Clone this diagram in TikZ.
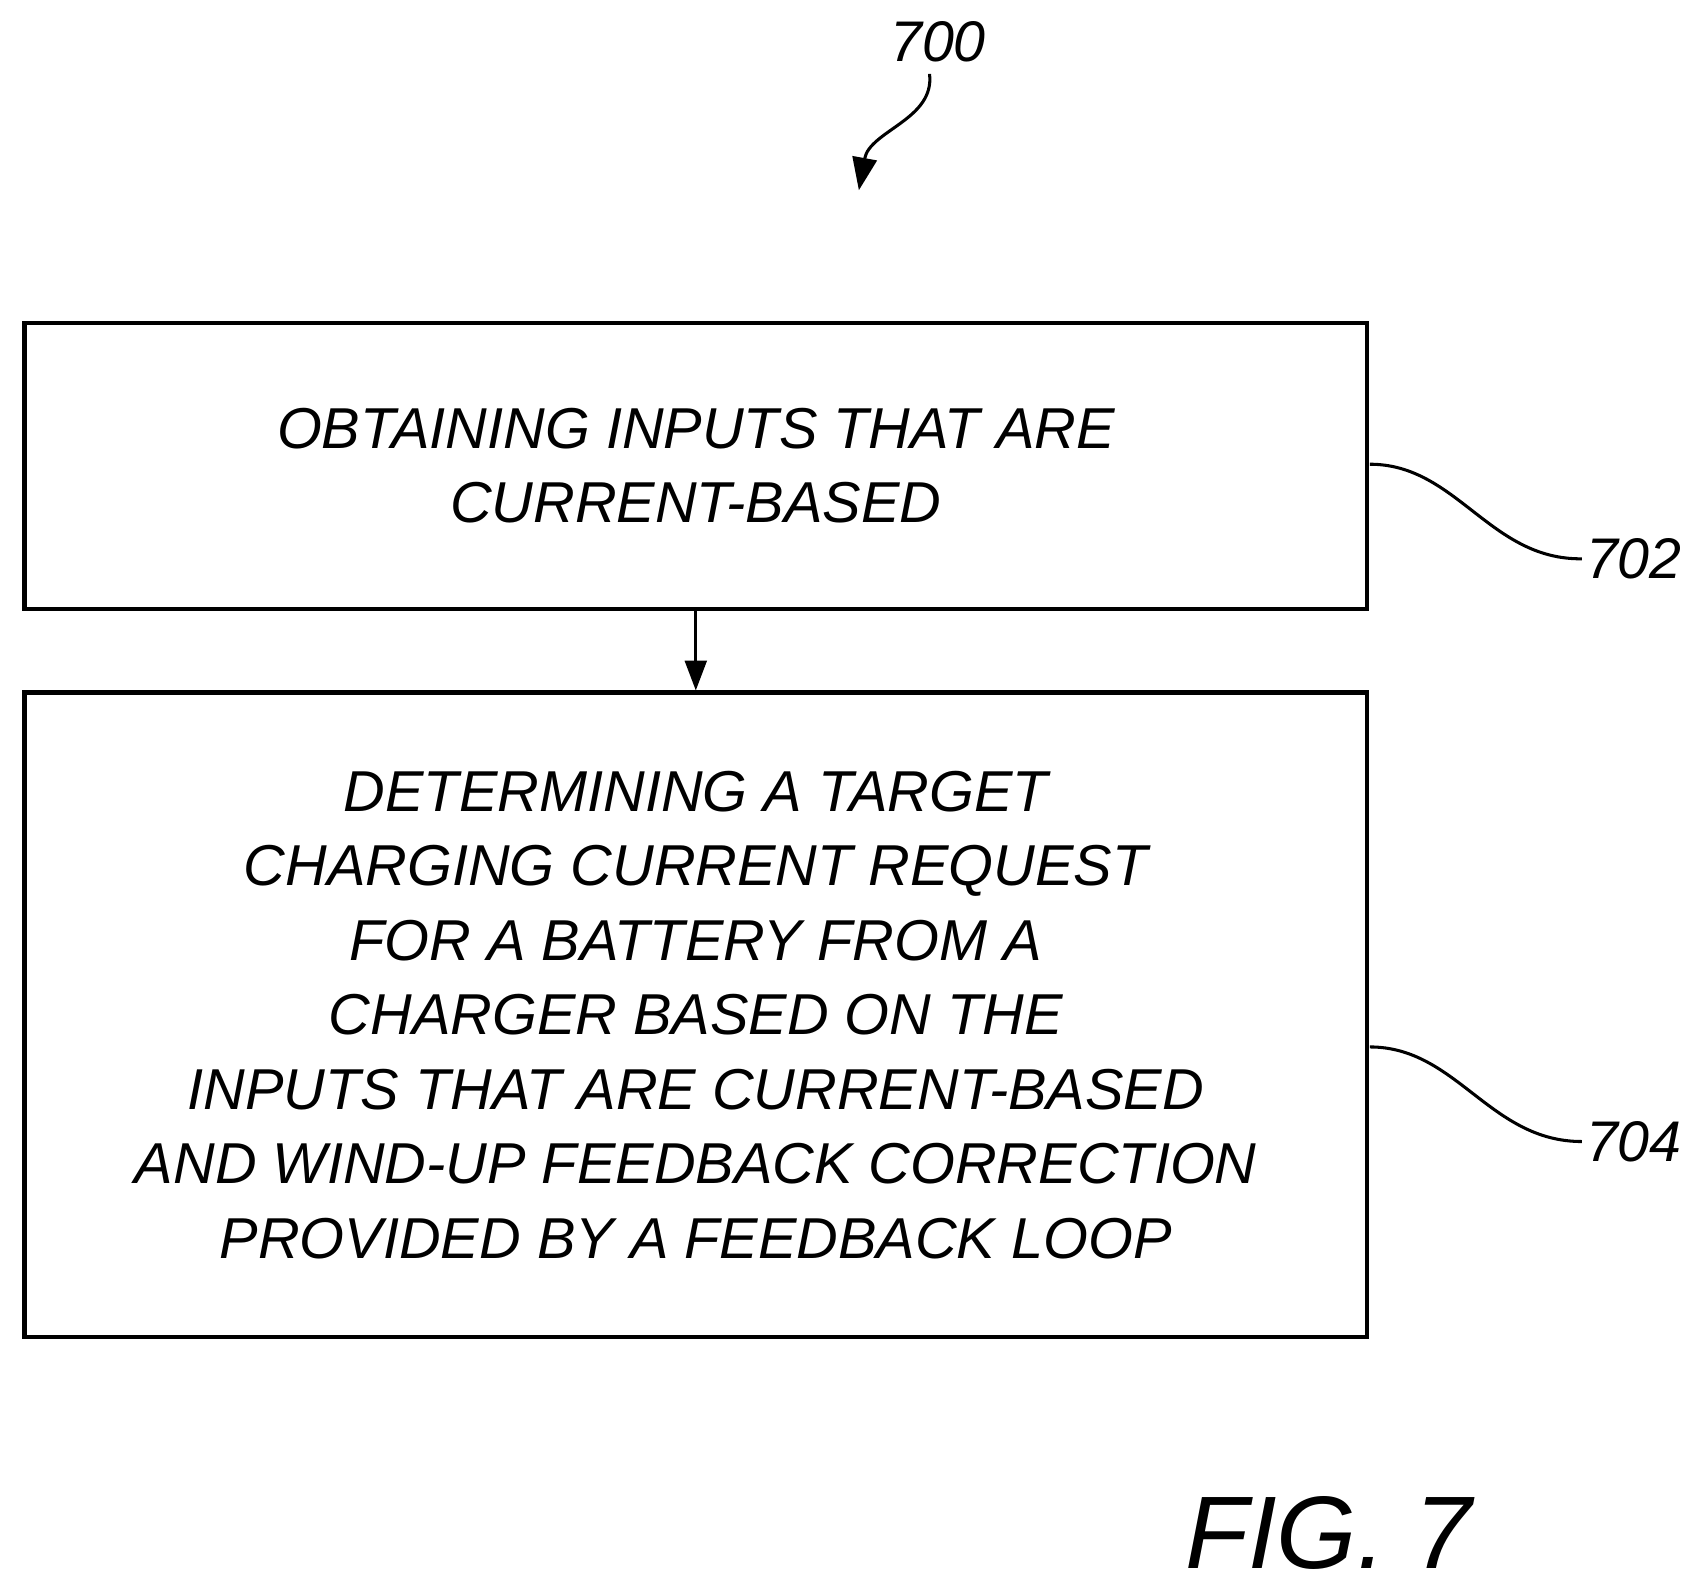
\documentclass[tikz,border=0pt]{standalone}
\usepackage{fontspec}
\setmainfont{Liberation Sans}
\usetikzlibrary{positioning,arrows.meta}

\begin{document}
\begin{tikzpicture}[x=0.02cm,y=-0.02cm,
    step_box/.style={draw,line width=2.2pt,minimum width=24.7cm,inner sep=0pt,
        align=center,font=\fontsize{30.2}{39}\selectfont\itshape},
    ref_label/.style={font=\fontsize{30}{39}\selectfont\itshape,anchor=west,inner sep=2pt},
    leader/.style={line width=1.6pt}]

    \useasboundingbox (0,0) rectangle (1560,1462);

    \node[step_box, minimum height=5.26cm] (702) at (640,428.5)
        {OBTAINING INPUTS THAT ARE\\CURRENT-BASED};
    \node[step_box, minimum height=11.86cm] (704) at (640,933.5)
        {DETERMINING A TARGET\\CHARGING CURRENT REQUEST\\FOR A BATTERY FROM A\\
         CHARGER BASED ON THE\\INPUTS THAT ARE CURRENT-BASED\\
         AND WIND-UP FEEDBACK CORRECTION\\PROVIDED BY A FEEDBACK LOOP};

    \node[ref_label] (700) at (815,38) {700};
    \node[ref_label] (l702) at (1455,514) {702};
    \node[ref_label] (l704) at (1455,1050) {704};
    \node[font=\fontsize{54}{60}\selectfont\itshape] (fig) at (1222,1410) {FIG. 7};

    \coordinate (a700) at (790,175);
    \draw[leader,-{Triangle[length=0.6cm,width=0.45cm]}] (855,68) .. controls (860,110) and (800,120) .. (a700);
    \draw[leader,-{Triangle[length=0.55cm,width=0.4cm]}] (702.south) -- (704.north);

    \draw[leader] (1260,427) .. controls (1340,427) and (1370,515) .. (l702.west);
    \draw[leader] (1260,963) .. controls (1340,963) and (1370,1050) .. (l704.west);
\end{tikzpicture}
\end{document}
